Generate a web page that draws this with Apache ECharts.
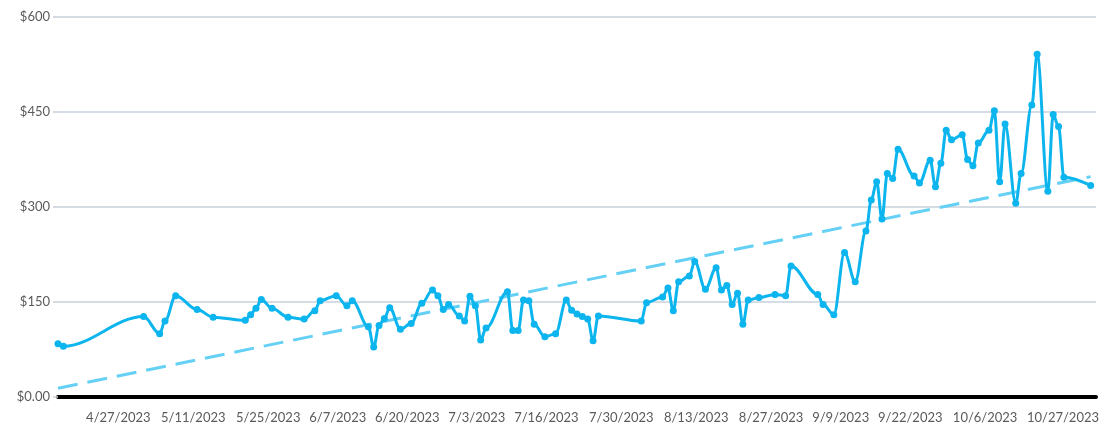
<!DOCTYPE html>
<html>
<head>
<meta charset="utf-8">
<script src="https://cdn.jsdelivr.net/npm/echarts@6/dist/echarts.min.js"></script>
<style>
  html, body { margin: 0; padding: 0; background: #fff; }
  #chart { width: 1102px; height: 447px; }
</style>
</head>
<body>
<div id="chart"></div>
<script>
var dates = [
    '2023-04-16', '2023-04-17', '2023-05-02', '2023-05-05', '2023-05-06', '2023-05-08', '2023-05-12', '2023-05-15',
    '2023-05-21', '2023-05-22', '2023-05-23', '2023-05-24', '2023-05-26', '2023-05-29', '2023-06-01', '2023-06-03',
    '2023-06-04', '2023-06-07', '2023-06-09', '2023-06-10', '2023-06-13', '2023-06-14', '2023-06-15', '2023-06-16',
    '2023-06-17', '2023-06-19', '2023-06-21', '2023-06-23', '2023-06-25', '2023-06-26', '2023-06-27', '2023-06-28',
    '2023-06-30', '2023-07-01', '2023-07-02', '2023-07-03', '2023-07-04', '2023-07-05', '2023-07-09', '2023-07-10',
    '2023-07-11', '2023-07-12', '2023-07-13', '2023-07-14', '2023-07-16', '2023-07-18', '2023-07-20', '2023-07-21',
    '2023-07-22', '2023-07-23', '2023-07-24', '2023-07-25', '2023-07-26', '2023-08-03', '2023-08-04', '2023-08-07',
    '2023-08-08', '2023-08-09', '2023-08-10', '2023-08-12', '2023-08-13', '2023-08-15', '2023-08-17', '2023-08-18',
    '2023-08-19', '2023-08-20', '2023-08-21', '2023-08-22', '2023-08-23', '2023-08-25', '2023-08-28', '2023-08-30',
    '2023-08-31', '2023-09-05', '2023-09-06', '2023-09-08', '2023-09-10', '2023-09-12', '2023-09-14', '2023-09-15',
    '2023-09-16', '2023-09-17', '2023-09-18', '2023-09-19', '2023-09-20', '2023-09-23', '2023-09-24', '2023-09-26',
    '2023-09-27', '2023-09-28', '2023-09-29', '2023-09-30', '2023-10-02', '2023-10-03', '2023-10-04', '2023-10-05',
    '2023-10-07', '2023-10-08', '2023-10-09', '2023-10-10', '2023-10-12', '2023-10-13', '2023-10-15', '2023-10-16',
    '2023-10-18', '2023-10-19', '2023-10-20', '2023-10-21', '2023-10-26'
];
var prices = [
    84, 80, 127, 100, 120, 160, 138, 126,
    121, 130, 140, 154, 140, 126, 123, 136,
    152, 160, 144, 152, 111, 79, 113, 124,
    141, 107, 116, 148, 169, 160, 138, 146,
    128, 120, 159, 144, 90, 109, 166, 105,
    105, 153, 152, 115, 95, 100, 153, 137,
    131, 127, 123, 89, 128, 120, 149, 158,
    172, 136, 182, 191, 214, 170, 204, 169,
    176, 146, 164, 115, 153, 157, 162, 160,
    207, 162, 146, 130, 228, 182, 262, 311,
    340, 281, 353, 345, 391, 349, 338, 374,
    332, 369, 421, 406, 414, 375, 365, 401,
    421, 452, 340, 431, 306, 353, 461, 541,
    325, 446, 427, 347, 334
];
var trendDates = ['2023-04-16', '2023-10-26'];
var trendValues = [13.7, 348];
var tickDates = [
    '2023-04-27', '2023-05-11', '2023-05-25', '2023-06-07', '2023-06-20', '2023-07-03', '2023-07-16',
    '2023-07-30', '2023-08-13', '2023-08-27', '2023-09-09', '2023-09-22', '2023-10-06', '2023-10-27'
];

function toTime(s) {
    var p = s.split('-');
    return new Date(+p[0], +p[1] - 1, +p[2]).getTime();
}

var chart = echarts.init(document.getElementById('chart'));

var priceData = [];
for (var i = 0; i < dates.length; i++) {
    priceData.push([toTime(dates[i]), prices[i]]);
}
var trendData = [];
for (var j = 0; j < trendDates.length; j++) {
    trendData.push([toTime(trendDates[j]), trendValues[j]]);
}

chart.setOption({
    animation: false,
    grid: {left: 58, right: 5, top: 17, bottom: 50, containLabel: false},
    xAxis: {
        type: 'value',
        min: toTime('2023-04-16'),
        max: toTime('2023-10-27'),
        axisLine: {show: true, onZero: false, lineStyle: {color: '#000', width: 4}},
        axisTick: {show: false},
        splitLine: {show: false},
        axisLabel: {
            customValues: tickDates.map(toTime),
            alignMaxLabel: 'right',
            showMaxLabel: true,
            margin: 14,
            color: '#5a5a5a',
            fontFamily: 'Lato',
            fontSize: 13,
            padding: [0, -3, 0, 0],
            formatter: function (v) {
                var d = new Date(v);
                return (d.getMonth() + 1) + '/' + d.getDate() + '/' + d.getFullYear();
            }
        }
    },
    yAxis: {
        type: 'value',
        min: 0,
        max: 600,
        interval: 150,
        axisLine: {show: false},
        axisTick: {show: true, length: 5, lineStyle: {color: '#c9d0da', width: 1.5}},
        splitLine: {show: true, lineStyle: {color: '#c9d0da', width: 1.5}},
        axisLabel: {
            margin: 8,
            color: '#5a5a5a',
            fontFamily: 'Lato',
            fontSize: 13,
            formatter: function (v) {
                return v === 0 ? '$0.00' : '$' + v;
            }
        }
    },
    series: [
        {
            name: 'trend',
            type: 'line',
            data: trendData,
            symbol: 'none',
            z: 1,
            lineStyle: {color: '#64d0f5', width: 3, type: [20, 10]}
        },
        {
            name: 'price',
            type: 'line',
            data: priceData,
            smooth: 0.35,
            smoothMonotone: 'x',
            symbol: 'circle',
            symbolSize: 7,
            z: 2,
            itemStyle: {color: '#0db5ee'},
            lineStyle: {color: '#0db5ee', width: 3}
        }
    ]
});
</script>
</body>
</html>
